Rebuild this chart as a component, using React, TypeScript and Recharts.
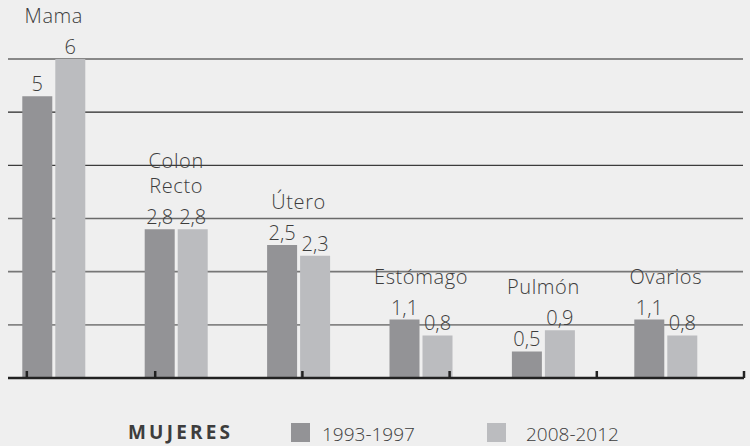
import React from 'react';
import { BarChart, Bar, XAxis, YAxis, CartesianGrid, LabelList, Legend } from 'recharts';

// ---- data ----
const categories = ['Mama', 'Colon\nRecto', 'Útero', 'Estómago', 'Pulmón', 'Ovarios'];
const values1993 = [5.3, 2.8, 2.5, 1.1, 0.5, 1.1];
const values2008 = [6, 2.8, 2.3, 0.8, 0.9, 0.8];
const labels1993 = ['5', '2,8', '2,5', '1,1', '0,5', '1,1'];
const labels2008 = ['6', '2,8', '2,3', '0,8', '0,9', '0,8'];
const seriesNames = ['1993-1997', '2008-2012'];
const legendTitle = 'MUJERES';
const yTicks = [0, 1, 2, 3, 4, 5, 6];
// axis ends and band boundaries, in band units
const axisTicks = [0.128, 1, 2, 3, 4, 5, 6.141];

// ---- styles ----
const DARK = '#939396';
const LIGHT = '#bbbcbf';
const TEXT = '#3d3d3d';
const FONT = '"Open Sans", "Noto Sans", sans-serif';
// colour of each horizontal grid line, from the top one down
const gridColors = ['#707070', '#858585', '#777777', '#6a6a6a', '#3c3c3c', '#262626', '#222222'];

const table = categories.map((name, i) => ({
  name,
  v1: values1993[i],
  v2: values2008[i],
  l1: labels1993[i],
  l2: labels2008[i],
  c1: values1993[i] > values2008[i] ? name : '',
  c2: values2008[i] >= values1993[i] ? name : '',
}));

const valueLabel = (props: any) => {
  const vb = props.viewBox ?? props;
  const { x, y, width } = vb;
  return (
    <text x={x + width / 2} y={y - 5} textAnchor="middle" fill={TEXT}
      fontFamily={FONT} fontWeight={300} fontSize={20}>
      {props.value}
    </text>
  );
};

const catLabel = (side: 'left' | 'right') => (props: any) => {
  const v = props.value;
  if (!v) return null;
  const vb = props.viewBox ?? props;
  const { x, y, width } = vb;
  const cx = side === 'left' ? x + width + 1.5 : x - 1.5;
  const lines = String(v).split('\n');
  return (
    <g>
      {lines.map((ln, k) => (
        <text key={k} x={cx} y={y - 36 - (lines.length - 1 - k) * 25} textAnchor="middle"
          fill={TEXT} fontFamily={FONT} fontWeight={300} fontSize={20} letterSpacing={0.6}>
          {ln}
        </text>
      ))}
    </g>
  );
};

const gridLine = (props: any) => {
  const { x1, x2, y1, index } = props;
  const c = gridColors[index] ?? '#666';
  return <line key={`g${index}`} x1={x1} x2={x2 - 1} y1={y1} y2={y1} stroke={c} strokeWidth={index <= 3 ? 1.6 : 1.2} />;
};

const renderLegend = (props: any) => {
  const payload = props.payload || [];
  return (
    <svg width={750} height={446} style={{ position: 'absolute', left: 0, top: 0 }}>
      <text x={128} y={439} fill={TEXT} fontFamily={FONT} fontWeight={700} fontSize={19} letterSpacing={3.2}>
        {legendTitle}
      </text>
      {payload.map((item: any, i: number) => (
        <g key={i}>
          <rect x={291 + i * 196} y={423} width={19} height={19} fill={item.color} />
          <text x={322 + i * 204} y={441} fill={TEXT} fontFamily={FONT} fontWeight={300} fontSize={19}>
            {item.value}
          </text>
        </g>
      ))}
    </svg>
  );
};

export default function App() {
  return (
    <div style={{ position: 'absolute', left: 0, top: 0, width: 750, height: 446, background: '#efefef' }}>
      <BarChart width={750} height={446} data={table}
        margin={{ top: 59, right: 6, bottom: 68, left: 8 }} barGap={3} barSize={30}>
        <CartesianGrid vertical={false} horizontal={gridLine} x={8} width={736} />
        <YAxis hide domain={[0, 6]} ticks={yTicks} type="number" />
        <XAxis dataKey="name" hide padding={{ left: -15.7, right: 17.3 }} />
        <XAxis xAxisId="t" type="number" domain={[axisTicks[0], axisTicks[axisTicks.length - 1]]}
          ticks={axisTicks} allowDataOverflow height={1} mirror tickSize={7} interval={0}
          axisLine={{ stroke: '#222', strokeWidth: 2.5 }} tickLine={{ stroke: '#222', strokeWidth: 2.5 }}
          tickFormatter={() => ''} />
        <Legend verticalAlign="middle" align="center" layout="horizontal" content={renderLegend}
          wrapperStyle={{ left: 0, top: 0, width: 750, height: 446, pointerEvents: 'none' }} />
        <Bar dataKey="v1" name={seriesNames[0]} fill={DARK} isAnimationActive={false}>
          <LabelList dataKey="l1" content={valueLabel} />
          <LabelList dataKey="c1" content={catLabel('left')} />
        </Bar>
        <Bar dataKey="v2" name={seriesNames[1]} fill={LIGHT} isAnimationActive={false}>
          <LabelList dataKey="l2" content={valueLabel} />
          <LabelList dataKey="c2" content={catLabel('right')} />
        </Bar>
      </BarChart>
    </div>
  );
}
